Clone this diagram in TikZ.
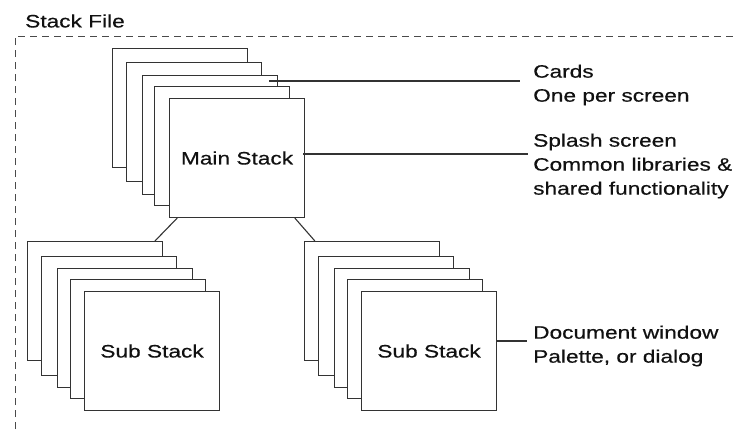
\documentclass[tikz,border=0pt]{standalone}
\usepackage{fontspec}
\setmainfont{Liberation Sans}[FakeStretch=1.26,FakeBold=0.4]
\usetikzlibrary{calc}
\definecolor{linec}{HTML}{333333}
\definecolor{dashc}{HTML}{4A4A4A}
\definecolor{textc}{HTML}{111111}
\begin{document}
\begin{tikzpicture}[x=1pt,y=-1pt,
  card/.style={draw=linec, fill=white, line width=1.1pt, minimum width=135pt, minimum height=119pt, inner sep=0pt, anchor=north west, text=textc},
  lbl/.style={align=left, anchor=west, inner sep=0pt, text=textc},
  conn/.style={draw=linec, line width=1.1pt},
  every node/.style={font=\fontsize{18}{24}\selectfont}]
\useasboundingbox (0,0) rectangle (736,429);
\fill[white] (0,0) rectangle (736,429);
% frame
\node[anchor=west, inner sep=0pt, text=textc] (title) at (25,21) {Stack File};
\draw[dashc, line width=1pt, dash pattern=on 7pt off 5pt] (15,429) -- (15,36) -- (736,36);
% main stack
\node[card] (m1) at (112,48) {};
\node[card] (m2) at (126,62) {};
\node[card] (m3) at (142,75) {};
\node[card] (m4) at (154,86) {};
\node[card] (m5) at (169,98) {Main Stack};
% left sub stack
\node[card] (l1) at (27,241) {};
\node[card] (l2) at (41,256) {};
\node[card] (l3) at (57,268) {};
\node[card] (l4) at (70,279) {};
\node[card] (l5) at (84,291) {Sub Stack};
% right sub stack
\node[card] (r1) at (304,241) {};
\node[card] (r2) at (318,256) {};
\node[card] (r3) at (334,268) {};
\node[card] (r4) at (347,279) {};
\node[card] (r5) at (361,291) {Sub Stack};
% labels
\node[lbl] (cards) at (533,85) {Cards\\One per screen};
\node[lbl] (splash) at (533,166) {Splash screen\\Common libraries \&\\shared functionality};
\node[lbl] (doc) at (533,346) {Document window\\Palette, or dialog};
% connectors
\coordinate (cstart) at (269,81);
\coordinate (cend) at (520,81);
\draw[conn] (cstart) -- (cend);
\coordinate (mstart) at (303,154);
\coordinate (mend) at (528,154);
\draw[conn] (mstart) -- (mend);
\coordinate (rstart) at (496,341);
\coordinate (rend) at (527,341);
\draw[conn] (rstart) -- (rend);
\draw[conn] ($(m5.south west)!0.06!(m5.south east)$) -- ($(l1.north west)!0.94!(l1.north east)$);
\draw[conn] ($(m5.south west)!0.925!(m5.south east)$) -- ($(r1.north west)!0.08!(r1.north east)$);
\end{tikzpicture}
\end{document}
